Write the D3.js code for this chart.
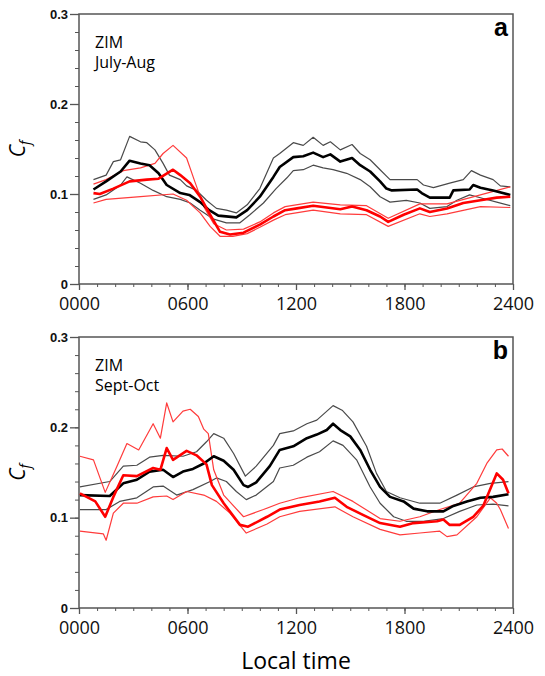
<!DOCTYPE html>
<html lang="en">
<head>
    <meta charset="UTF-8">
    <title>ZIM Cf diurnal</title>
    <script src="https://d3js.org/d3.v7.min.js"></script>
    <style>
        body {
            margin: 0;
            background: #fff;
        }
        .tick-y text {
            font-family: "Liberation Sans", Arial, sans-serif;
            font-weight: bold;
            font-size: 13px;
        }
        .tick-x text {
            font-family: "Open Sans", sans-serif;
            font-size: 18px;
        }
    </style>
</head>
<body>
    <svg width="545" height="676"></svg>

    <script>
        // tick labels
        const xTicks = [0, 6, 12, 18, 24];
        const xTickLabels = ["0000", "0600", "1200", "1800", "2400"];
        const yTicks = [0, 0.1, 0.2, 0.3];
        const yTickLabels = ["0", "0.1", "0.2", "0.3"];

        // panel a: July-Aug, [hour, Cf]
        const aBlackMean = [[0.8,0.105],[1.5,0.114],[2.3,0.125],[2.8,0.137],[3.4,0.134],[3.9,0.132],[4.4,0.123],[4.85,0.110],[5.6,0.101],[6.1,0.099],[6.7,0.091],[7.2,0.082],[7.7,0.076],[8.7,0.074],[9.3,0.082],[10.0,0.097],[10.75,0.119],[11.1,0.130],[11.85,0.141],[12.4,0.142],[12.95,0.146],[13.5,0.141],[13.9,0.144],[14.45,0.136],[15.1,0.140],[15.55,0.132],[16.1,0.125],[16.65,0.114],[17.0,0.106],[17.3,0.104],[18.7,0.105],[18.95,0.101],[19.4,0.096],[20.5,0.096],[20.7,0.104],[21.6,0.105],[21.8,0.110],[22.2,0.107],[22.9,0.104],[23.85,0.099]];
        const aBlackUpper = [[0.8,0.116],[1.5,0.121],[1.9,0.136],[2.3,0.138],[2.8,0.164],[3.4,0.158],[3.75,0.157],[4.2,0.149],[4.65,0.134],[5.0,0.121],[5.6,0.116],[5.95,0.109],[6.5,0.104],[7.05,0.093],[7.6,0.084],[8.15,0.082],[8.7,0.079],[9.3,0.088],[10.0,0.106],[10.75,0.140],[11.1,0.145],[11.85,0.157],[12.4,0.154],[12.95,0.163],[13.5,0.154],[13.9,0.158],[14.45,0.149],[15.1,0.155],[15.55,0.145],[16.1,0.138],[16.65,0.127],[17.2,0.116],[17.75,0.116],[18.7,0.116],[19.05,0.110],[19.6,0.107],[20.5,0.112],[21.25,0.116],[21.7,0.126],[22.2,0.121],[22.9,0.116],[23.3,0.109],[23.85,0.108]];
        const aBlackLower = [[0.8,0.094],[1.5,0.099],[2.3,0.110],[2.65,0.119],[3.4,0.112],[4.1,0.104],[4.85,0.097],[5.6,0.094],[6.15,0.090],[6.7,0.082],[7.45,0.072],[8.15,0.068],[8.9,0.068],[9.45,0.077],[10.2,0.090],[10.9,0.106],[11.5,0.118],[11.85,0.126],[12.4,0.127],[12.95,0.132],[13.5,0.129],[14.05,0.127],[14.8,0.123],[15.55,0.116],[16.1,0.108],[16.65,0.097],[17.2,0.091],[18.1,0.093],[18.85,0.090],[19.4,0.084],[20.35,0.086],[20.9,0.093],[21.6,0.099],[22.35,0.095],[23.1,0.091],[23.85,0.087]];
        const aRedMean = [[0.8,0.101],[1.15,0.100],[1.9,0.106],[2.8,0.114],[3.75,0.116],[4.4,0.117],[5.2,0.127],[5.6,0.121],[6.15,0.112],[6.7,0.097],[7.25,0.077],[7.8,0.058],[8.35,0.055],[9.1,0.057],[10.0,0.066],[10.75,0.075],[11.4,0.082],[12.05,0.084],[12.95,0.087],[14.45,0.083],[15.1,0.086],[15.9,0.082],[16.65,0.075],[17.1,0.069],[17.95,0.077],[18.85,0.084],[19.4,0.080],[20.35,0.084],[21.25,0.090],[22.2,0.093],[23.1,0.096],[23.85,0.097]];
        const aRedUpper = [[0.8,0.111],[1.5,0.116],[2.45,0.126],[3.4,0.129],[4.2,0.134],[4.65,0.145],[5.2,0.154],[5.95,0.140],[6.4,0.114],[6.9,0.086],[7.45,0.067],[8.15,0.060],[9.1,0.061],[10.0,0.069],[10.75,0.079],[11.4,0.086],[12.95,0.091],[14.45,0.088],[15.9,0.087],[17.1,0.073],[18.85,0.089],[20.35,0.089],[22.2,0.099],[23.85,0.108]];
        const aRedLower = [[0.8,0.090],[1.5,0.094],[3.4,0.097],[5.2,0.100],[5.95,0.093],[6.7,0.079],[7.25,0.064],[7.8,0.053],[8.5,0.053],[9.3,0.056],[10.0,0.063],[10.75,0.071],[11.4,0.077],[12.95,0.082],[14.45,0.078],[15.9,0.077],[17.1,0.064],[18.85,0.078],[19.4,0.075],[20.35,0.078],[22.2,0.086],[23.85,0.085]];

        // panel b: Sept-Oct
        const bBlackMean = [[0.05,0.125],[1.7,0.124],[2.45,0.138],[3.2,0.142],[3.9,0.151],[4.65,0.153],[5.2,0.145],[5.75,0.151],[6.3,0.154],[6.9,0.160],[7.45,0.168],[8.0,0.163],[8.55,0.153],[9.1,0.136],[9.35,0.134],[9.8,0.139],[10.55,0.157],[11.1,0.175],[11.85,0.179],[12.6,0.188],[13.15,0.192],[13.7,0.197],[14.05,0.204],[14.45,0.197],[15.0,0.190],[15.55,0.175],[16.1,0.153],[16.65,0.134],[17.2,0.123],[17.95,0.118],[18.5,0.110],[19.25,0.107],[20.15,0.107],[20.7,0.113],[21.45,0.118],[22.2,0.122],[22.9,0.123],[23.75,0.126]];
        const bBlackUpper = [[0.05,0.134],[1.7,0.140],[2.45,0.157],[3.2,0.158],[3.9,0.167],[4.65,0.169],[5.75,0.168],[6.5,0.173],[7.05,0.184],[7.45,0.193],[8.0,0.188],[8.55,0.171],[9.2,0.146],[9.8,0.157],[10.75,0.180],[11.1,0.193],[11.85,0.196],[12.6,0.204],[13.15,0.208],[14.05,0.224],[14.55,0.219],[15.15,0.206],[15.9,0.179],[16.45,0.149],[17.0,0.129],[17.75,0.122],[18.85,0.116],[19.95,0.116],[20.9,0.125],[21.8,0.134],[22.75,0.138],[23.75,0.140]];
        const bBlackLower = [[0.05,0.109],[1.5,0.109],[2.25,0.118],[3.2,0.122],[4.1,0.134],[4.65,0.135],[5.4,0.125],[6.3,0.131],[7.25,0.140],[7.6,0.144],[8.15,0.140],[8.7,0.129],[9.25,0.120],[9.8,0.125],[10.75,0.140],[11.1,0.155],[11.85,0.158],[12.6,0.167],[13.3,0.173],[14.05,0.185],[14.6,0.180],[15.35,0.164],[16.1,0.134],[16.65,0.116],[17.4,0.101],[18.1,0.096],[19.05,0.096],[20.15,0.099],[21.05,0.107],[22.0,0.114],[22.9,0.115],[23.75,0.113]];
        const bRedMean = [[0.05,0.127],[0.9,0.118],[1.45,0.101],[1.9,0.123],[2.45,0.147],[3.2,0.146],[4.1,0.155],[4.5,0.153],[4.85,0.177],[5.2,0.164],[5.95,0.174],[6.5,0.169],[7.05,0.159],[7.35,0.136],[8.0,0.116],[8.9,0.092],[9.35,0.090],[10.4,0.101],[11.1,0.109],[12.2,0.114],[13.3,0.118],[14.15,0.122],[14.8,0.112],[15.7,0.103],[16.65,0.094],[17.75,0.090],[18.5,0.094],[19.8,0.096],[20.15,0.098],[20.5,0.092],[21.05,0.092],[21.8,0.101],[22.35,0.113],[23.1,0.149],[23.45,0.142],[23.75,0.127]];
        const bRedUpper = [[0.05,0.168],[0.8,0.164],[1.45,0.128],[2.1,0.157],[2.65,0.182],[3.3,0.175],[4.1,0.204],[4.5,0.188],[4.85,0.227],[5.2,0.206],[5.75,0.218],[6.15,0.220],[6.6,0.212],[6.9,0.198],[7.15,0.193],[7.45,0.153],[8.0,0.125],[9.1,0.101],[10.2,0.109],[11.1,0.116],[12.2,0.122],[14.05,0.129],[15.15,0.118],[16.65,0.099],[17.75,0.096],[18.85,0.101],[19.95,0.109],[21.05,0.116],[22.0,0.138],[22.55,0.160],[23.1,0.175],[23.4,0.176],[23.75,0.168]];
        const bRedLower = [[0.05,0.085],[1.35,0.082],[1.5,0.075],[1.9,0.105],[2.45,0.116],[3.2,0.116],[4.1,0.123],[4.85,0.124],[5.2,0.120],[5.95,0.129],[6.9,0.125],[7.6,0.118],[8.35,0.105],[9.25,0.083],[10.4,0.093],[11.1,0.101],[12.2,0.107],[14.15,0.112],[15.15,0.101],[16.65,0.087],[17.75,0.081],[18.85,0.083],[19.95,0.085],[20.35,0.079],[20.9,0.081],[22.0,0.101],[22.75,0.122],[23.1,0.116],[23.3,0.109],[23.75,0.088]];

        const svg = d3.select("svg");
        const left = 79, right = 513;
        const axisColor = "#555";

        const panels = [
            {top: 14, bottom: 284, letter: "a", season: "July-Aug",
             series: [[aBlackUpper, "thinK"], [aBlackLower, "thinK"], [aRedUpper, "thinR"], [aRedLower, "thinR"], [aBlackMean, "thickK"], [aRedMean, "thickR"]]},
            {top: 337, bottom: 608, letter: "b", season: "Sept-Oct",
             series: [[bBlackUpper, "thinK"], [bBlackLower, "thinK"], [bRedUpper, "thinR"], [bRedLower, "thinR"], [bBlackMean, "thickK"], [bRedMean, "thickR"]]}
        ];

        const styles = {
            thinK: {color: "#4a4a4a", width: 1.2},
            thinR: {color: "#ff3b3b", width: 1.2},
            thickK: {color: "#000", width: 2.6},
            thickR: {color: "#ff0000", width: 2.6}
        };

        const x = d3.scaleLinear().domain([0, 24]).range([left, right]);

        panels.forEach(p => {
            const y = d3.scaleLinear().domain([0, 0.3]).range([p.bottom, p.top]);
            const g = svg.append("g");

            // minor ticks
            g.append("g")
                .attr("transform", `translate(0,${p.bottom})`)
                .call(d3.axisBottom(x).tickValues(d3.range(0, 25, 1)).tickSize(3).tickFormat(""))
                .call(a => a.select(".domain").remove())
                .selectAll("line").attr("stroke", axisColor);
            g.append("g")
                .attr("transform", `translate(${left},0)`)
                .call(d3.axisLeft(y).tickValues(d3.range(0, 0.31, 0.02)).tickSize(4).tickFormat(""))
                .call(a => a.select(".domain").remove())
                .selectAll("line").attr("stroke", axisColor);

            // major axes
            const xa = g.append("g")
                .attr("class", "tick-x")
                .attr("transform", `translate(0,${p.bottom})`)
                .call(d3.axisBottom(x).tickValues(xTicks).tickSize(6).tickPadding(7)
                    .tickFormat((d, i) => xTickLabels[i]));
            xa.selectAll("line").attr("stroke", axisColor).attr("stroke-width", 1.3);
            xa.selectAll("text").attr("fill", "#111");
            xa.select(".domain").remove();

            const ya = g.append("g")
                .attr("class", "tick-y")
                .attr("transform", `translate(${left},0)`)
                .call(d3.axisLeft(y).tickValues(yTicks).tickSize(9).tickPadding(2)
                    .tickFormat((d, i) => yTickLabels[i]));
            ya.selectAll("line").attr("stroke", axisColor).attr("stroke-width", 1.3);
            ya.selectAll("text").attr("fill", "#111");
            ya.select(".domain").remove();

            // frame
            g.append("rect")
                .attr("x", left).attr("y", p.top)
                .attr("width", right - left).attr("height", p.bottom - p.top)
                .attr("fill", "none")
                .attr("stroke", axisColor)
                .attr("stroke-width", 1.5);

            const line = d3.line().x(d => x(d[0])).y(d => y(d[1]));
            p.series.forEach(([data, key]) => {
                g.append("path")
                    .datum(data)
                    .attr("d", line)
                    .attr("fill", "none")
                    .attr("stroke", styles[key].color)
                    .attr("stroke-width", styles[key].width)
                    .attr("stroke-linejoin", "round");
            });

            // labels inside panel
            g.append("text")
                .attr("x", 95).attr("y", p.top + 34)
                .style("font-family", "'Open Sans', sans-serif").style("font-size", "16px")
                .text("ZIM");
            g.append("text")
                .attr("x", 95).attr("y", p.top + 54)
                .style("font-family", "'Open Sans', sans-serif").style("font-size", "16px")
                .text(p.season);
            g.append("text")
                .attr("x", right - 5).attr("y", p.top + 22)
                .attr("text-anchor", "end")
                .style("font-family", "'Liberation Sans', Arial, sans-serif")
                .style("font-weight", "bold").style("font-size", "25px")
                .text(p.letter);

            // y label C_f
            const cy = (p.top + p.bottom) / 2;
            const lab = g.append("text")
                .attr("transform", `translate(25,${cy}) rotate(-90)`)
                .attr("text-anchor", "middle")
                .style("font-family", "'Open Sans', sans-serif")
                .style("font-style", "italic").style("font-size", "21px");
            lab.append("tspan").text("C");
            lab.append("tspan").attr("dy", 5).style("font-size", "14px").text("f");
        });

        svg.append("text")
            .attr("x", (left + right) / 2).attr("y", 669)
            .attr("text-anchor", "middle")
            .style("font-family", "'Open Sans', sans-serif")
            .style("font-size", "23px")
            .text("Local time");
    </script>
</body>
</html>
